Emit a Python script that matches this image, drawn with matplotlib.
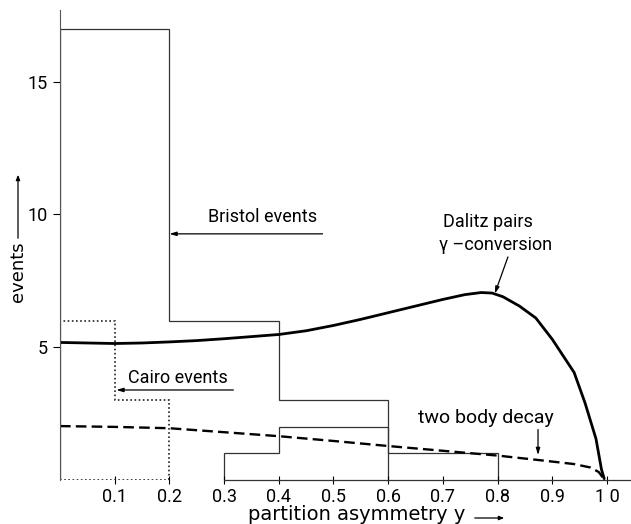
import matplotlib
matplotlib.use("Agg")
import matplotlib.pyplot as plt
import numpy as np

plt.rcParams['font.family'] = ['Roboto', 'DejaVu Sans']

# Histograms
bristol_edges = [0.0, 0.2, 0.4, 0.6, 0.8]
bristol_values = [17, 6, 3, 1]
cairo_edges = [0.0, 0.1, 0.2]
cairo_values = [6, 3]
other_edges = [0.3, 0.4, 0.6]
other_values = [1, 2]

# Theoretical curves
dalitz_x = [0, 0.05, 0.1, 0.15, 0.2, 0.25, 0.3, 0.35, 0.4, 0.45, 0.5, 0.55, 0.6,
            0.65, 0.7, 0.74, 0.77, 0.79, 0.81, 0.84, 0.87, 0.9, 0.94, 0.96, 0.98,
            0.99, 0.995]
dalitz_y = [5.18, 5.16, 5.14, 5.16, 5.2, 5.25, 5.32, 5.4, 5.48, 5.62, 5.82, 6.05,
            6.3, 6.55, 6.8, 6.98, 7.06, 7.04, 6.9, 6.55, 6.1, 5.3, 4.05, 2.9, 1.55,
            0.4, 0.05]
twobody_x = [0, 0.1, 0.2, 0.3, 0.4, 0.5, 0.6, 0.7, 0.8, 0.88, 0.94, 0.97, 0.985, 0.993]
twobody_y = [2.03, 2.0, 1.95, 1.8, 1.65, 1.47, 1.28, 1.1, 0.92, 0.74, 0.6, 0.47, 0.3, 0.08]

xticks = [0.1, 0.2, 0.3, 0.4, 0.5, 0.6, 0.7, 0.8, 0.9, 1.0]
xticklabels = ["0.1", "0.2", "0.3", "0.4", "0.5", "0.6", "0.7", "0.8", "0.9", "1 0"]
yticks = [5, 10, 15]

W, H = 631, 524
fig = plt.figure(figsize=(W / 100, H / 100), dpi=100)
ax = fig.add_axes([60 / W, 44 / H, (W - 60) / W, 470 / H])
ax.set_xlim(0, 1.044)
ax.set_ylim(0, 17.7)

FS = 13
# histograms
ax.stairs(bristol_values, bristol_edges, baseline=0, color='#333333', lw=0.9)
ax.stairs(cairo_values, cairo_edges, baseline=0, color='#222222', lw=1.2, ls=(0, (1, 1.5)))
ax.plot([cairo_edges[0], cairo_edges[-1]], [0, 0], color='#222222', lw=1.2, ls=(0, (1, 1.5)))
ax.stairs(other_values, other_edges, baseline=0, color='#333333', lw=0.9)

# curves
ax.plot(dalitz_x, dalitz_y, color='black', lw=2.0, solid_capstyle='round')
ax.plot(twobody_x, twobody_y, color='black', lw=1.7, ls=(0, (4.5, 2.2)))

# spines
for s in ['top', 'right']:
    ax.spines[s].set_visible(False)
ax.spines['left'].set_color('#555555')
ax.spines['left'].set_linewidth(0.8)
ax.spines['bottom'].set_color('#333333')
ax.spines['bottom'].set_linewidth(0.9)
ax.spines['bottom'].set_bounds(0.3, 1.044)

ax.set_xticks(xticks)
ax.set_xticklabels(xticklabels, fontsize=FS)
ax.set_yticks(yticks)
ax.set_yticklabels([str(v) for v in yticks], fontsize=FS)
ax.tick_params(axis='x', direction='inout', length=6, width=0.8, pad=3)
ax.tick_params(axis='y', direction='out', length=5, width=0.8, pad=4)

arrow_kw = dict(arrowstyle='-|>,head_length=0.4,head_width=0.12', color='black', lw=0.9,
                shrinkA=0, shrinkB=0)
# annotations
ax.text(0.27, 9.55, "Bristol events", fontsize=FS, va='bottom', ha='left')
ax.annotate("", xy=(0.2, 9.27), xytext=(0.48, 9.27), arrowprops=arrow_kw)
ax.text(0.125, 3.5, "Cairo events", fontsize=FS, va='bottom', ha='left')
ax.annotate("", xy=(0.103, 3.39), xytext=(0.317, 3.39), arrowprops=arrow_kw)
ax.text(0.7, 9.7, "Dalitz pairs", fontsize=FS, va='center', ha='left')
ax.text(0.693, 8.85, "\u03b3 \u2013conversion", fontsize=FS, va='center', ha='left')
ax.annotate("", xy=(0.795, 7.02), xytext=(0.819, 8.4), arrowprops=arrow_kw)
ax.text(0.655, 2.34, "two body decay", fontsize=FS + 1, va='center', ha='left')
ax.annotate("", xy=(0.874, 0.94), xytext=(0.874, 1.9), arrowprops=arrow_kw)

# axis labels with arrows
fig.text(18 / W, 1 - 272 / H, "events", rotation=90, fontsize=FS, ha='center', va='center',
         family=['DejaVu Sans'])
fig.add_artist(matplotlib.patches.FancyArrowPatch((18 / W, 1 - 241 / H), (18 / W, 1 - 172 / H),
               transform=fig.transFigure, arrowstyle='-|>,head_length=3,head_width=1.2',
               color='black', lw=0.9, mutation_scale=1))
fig.text(248 / W, 1 - 515 / H, "partition asymmetry y", fontsize=14, ha='left', va='center',
         family=['DejaVu Sans'])
fig.add_artist(matplotlib.patches.FancyArrowPatch((472 / W, 1 - 518 / H), (507 / W, 1 - 518 / H),
               transform=fig.transFigure, arrowstyle='-|>,head_length=3,head_width=1.2',
               color='black', lw=0.9, mutation_scale=1))

fig.savefig("out.png", dpi=100)
